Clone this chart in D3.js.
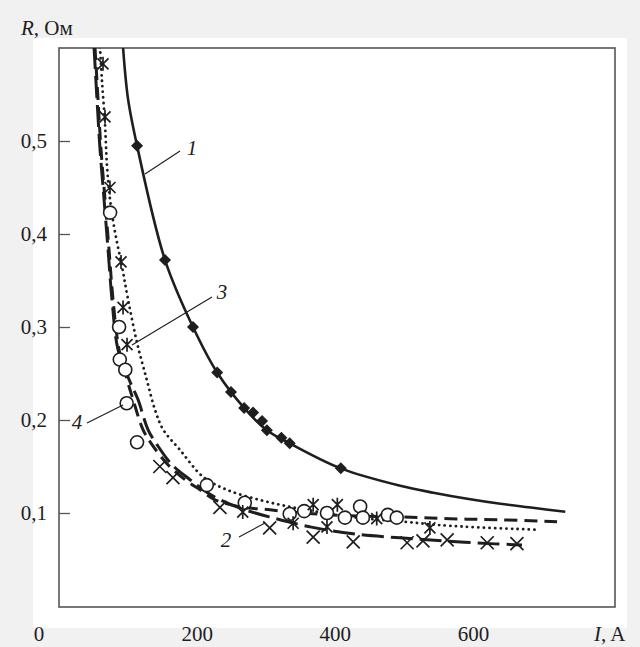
<!DOCTYPE html>
<html><head><meta charset="utf-8">
<script src="https://cdn.jsdelivr.net/npm/d3@7"></script>
<style>html,body{margin:0;padding:0;background:#f1f1f1;}svg{display:block;}</style>
</head><body>
<svg id="c" width="640" height="647"></svg>
<script>
// ---- data (I in A, R in Ohm) ----
const xTicks = [200, 400, 600];
const yTicks = [0.1, 0.2, 0.3, 0.4, 0.5];
const yTickLabels = ["0,1", "0,2", "0,3", "0,4", "0,5"];

// curve 1 (solid, filled diamonds)
const c1LineI = [92.7, 100, 113, 153.5, 194, 229, 268, 301, 334, 408, 494, 542, 591, 639, 686, 733];
const c1LineR = [0.601, 0.545, 0.495, 0.372, 0.300, 0.251, 0.213, 0.189, 0.175, 0.148, 0.1293, 0.1218, 0.1153, 0.1099, 0.1056, 0.1013];
const c1PtsI = [113, 153.5, 194, 229, 249, 268, 281, 294, 301, 322, 334, 408];
const c1PtsR = [0.495, 0.372, 0.300, 0.251, 0.230, 0.213, 0.208, 0.199, 0.189, 0.181, 0.175, 0.148];

// curve 2 (long dashes, crosses)
const c2LineI = [50.7, 55, 59.4, 65.2, 71, 76.7, 85.4, 101.4, 114.4, 128.8, 141.9, 163.6, 189.7, 208.5, 233.2, 269.3, 309.9, 363.5, 425.7, 493.7, 556, 631.3, 670.4];
const c2LineR = [0.601, 0.545, 0.491, 0.4375, 0.3836, 0.3297, 0.2759, 0.2435, 0.222, 0.1897, 0.1735, 0.1519, 0.1358, 0.125, 0.1142, 0.1034, 0.0948, 0.0851, 0.0776, 0.0733, 0.070, 0.0668, 0.0657];
const c2PtsI = [146, 165, 233, 305, 368, 426, 504, 527, 562, 620, 663];
const c2PtsR = [0.150, 0.138, 0.106, 0.084, 0.074, 0.069, 0.068, 0.070, 0.071, 0.068, 0.067];

// curve 3 (dotted, asterisks)
const c3LineI = [59.4, 62.3, 66.6, 69.5, 73.8, 81.1, 91.2, 99.9, 113, 127, 139, 150.6, 175, 208.5, 243, 291, 339, 421, 501, 566, 696];
const c3LineR = [0.601, 0.5636, 0.518, 0.473, 0.4375, 0.402, 0.365, 0.330, 0.283, 0.2435, 0.211, 0.190, 0.168, 0.139, 0.125, 0.114, 0.106, 0.096, 0.0905, 0.0862, 0.0819];
const c3PtsI = [63.7, 66.6, 73.8, 89.8, 92.7, 98.5, 266, 339, 368, 388, 403, 460, 537];
const c3PtsR = [0.583, 0.526, 0.450, 0.370, 0.321, 0.281, 0.101, 0.089, 0.109, 0.085, 0.109, 0.094, 0.084];

// curve 4 (dashes, open circles)
const c4LineI = [52.1, 56.5, 60.8, 66.6, 72.4, 78.2, 86.9, 98.5, 107.2, 121.6, 134.7, 157.8, 182.5, 204.2, 225.9, 262.1, 305.5, 348.9, 421.3, 493.7, 566.1, 638.6, 721.1];
const c4LineR = [0.601, 0.545, 0.491, 0.4375, 0.3836, 0.3297, 0.2759, 0.2435, 0.222, 0.1897, 0.1735, 0.1519, 0.1358, 0.125, 0.1142, 0.1067, 0.1034, 0.1002, 0.097, 0.0959, 0.0938, 0.0927, 0.0905];
const c4PtsI = [74, 87, 88, 96, 98, 113, 214, 269, 334, 355, 388, 414, 436, 440, 476, 489];
const c4PtsR = [0.423, 0.300, 0.265, 0.254, 0.218, 0.176, 0.130, 0.111, 0.099, 0.102, 0.100, 0.095, 0.107, 0.095, 0.098, 0.095];

const curveLabels = ["1", "2", "3", "4"];

// ---- layout ----
const svg = d3.select("#c");
const L = 59, R = 615, T = 48, B = 607;
const x = d3.scaleLinear().domain([0, 805]).range([L, R]);
const y = d3.scaleLinear().domain([0, 0.6]).range([606, T]);

svg.append("rect").attr("x", 33).attr("y", 38).attr("width", 594).attr("height", 590).attr("fill", "#fff");

const font = "'Liberation Serif','Times New Roman',serif";
const ink = "#1e1e1e";

svg.append("clipPath").attr("id", "clip").append("rect")
  .attr("x", L).attr("y", T).attr("width", R - L).attr("height", B - T);

svg.append("rect").attr("x", L).attr("y", T).attr("width", R - L).attr("height", B - T)
  .attr("fill", "none").attr("stroke", "#555").attr("stroke-width", 1.6);

// y ticks (inside)
const yAxis = d3.axisRight(y).tickValues(yTicks).tickSize(11).tickFormat("");
const ya = svg.append("g").attr("transform", `translate(${L},0)`).call(yAxis);
ya.select(".domain").remove();
ya.selectAll("line").attr("stroke", "#555").attr("stroke-width", 1.3);
svg.append("g").selectAll("text").data(yTicks).join("text")
  .attr("x", 47).attr("y", d => y(d) + 7).attr("text-anchor", "end")
  .attr("font-family", font).attr("font-size", 21).attr("fill", ink)
  .text((d, i) => yTickLabels[i]);

// x labels
svg.append("g").selectAll("text").data(xTicks).join("text")
  .attr("x", d => x(d)).attr("y", 641).attr("text-anchor", "middle")
  .attr("font-family", font).attr("font-size", 21).attr("fill", ink).text(d => d);
svg.append("text").attr("x", 39).attr("y", 641).attr("text-anchor", "middle")
  .attr("font-family", font).attr("font-size", 21).attr("fill", ink).text("0");
const xl = svg.append("text").attr("x", 594).attr("y", 641)
  .attr("font-family", font).attr("font-size", 21).attr("fill", ink);
xl.append("tspan").attr("font-style", "italic").text("I");
xl.append("tspan").text(", A");
const yl = svg.append("text").attr("x", 21).attr("y", 35)
  .attr("font-family", font).attr("font-size", 21).attr("fill", ink);
yl.append("tspan").attr("font-style", "italic").text("R");
yl.append("tspan").text(", Ом");

const g = svg.append("g").attr("clip-path", "url(#clip)");
const zip = (a, b) => a.map((v, i) => [v, b[i]]);

function drawLine(I, Rv, w, dash, cap) {
  g.append("path").datum(zip(I, Rv))
    .attr("d", d3.line().x(d => x(d[0])).y(d => y(d[1])).curve(d3.curveCatmullRom.alpha(0.5)))
    .attr("fill", "none").attr("stroke", ink).attr("stroke-width", w)
    .attr("stroke-dasharray", dash).attr("stroke-linecap", cap || "butt");
}
drawLine(c2LineI, c2LineR, 3, "22 7");
drawLine(c4LineI, c4LineR, 3, "13 7");
drawLine(c3LineI, c3LineR, 2.8, "0.1 5.5", "round");
drawLine(c1LineI, c1LineR, 2.6, null);

// markers
const diamond = d3.symbol().type(d3.symbolSquare).size(72);
g.append("g").selectAll("path").data(zip(c1PtsI, c1PtsR)).join("path")
  .attr("d", diamond).attr("transform", d => `translate(${x(d[0])},${y(d[1])}) rotate(45)`)
  .attr("fill", ink);
g.append("g").selectAll("circle").data(zip(c4PtsI, c4PtsR)).join("circle")
  .attr("cx", d => x(d[0])).attr("cy", d => y(d[1])).attr("r", 6.5)
  .attr("fill", "#fff").attr("stroke", ink).attr("stroke-width", 1.6);
const cross = s => `M${-s},${-s}L${s},${s}M${s},${-s}L${-s},${s}`;
g.append("g").selectAll("path").data(zip(c2PtsI, c2PtsR)).join("path")
  .attr("d", cross(6.5)).attr("transform", d => `translate(${x(d[0])},${y(d[1])})`)
  .attr("stroke", ink).attr("stroke-width", 1.7).attr("fill", "none");
g.append("g").selectAll("path").data(zip(c3PtsI, c3PtsR)).join("path")
  .attr("d", cross(5.5) + "M0,-7L0,7").attr("transform", d => `translate(${x(d[0])},${y(d[1])})`)
  .attr("stroke", ink).attr("stroke-width", 1.7).attr("fill", "none");

// curve labels with leaders
const labelPos = [[192, 155, 145, 174, 180, 151], [226, 547, 239, 537, 265, 523], [222, 299, 132, 345, 212, 297], [77, 429, 87, 423, 123, 405]];
labelPos.forEach((p, i) => {
  svg.append("line").attr("x1", p[2]).attr("y1", p[3]).attr("x2", p[4]).attr("y2", p[5])
    .attr("stroke", ink).attr("stroke-width", 1.1);
  svg.append("text").attr("x", p[0]).attr("y", p[1]).attr("text-anchor", "middle")
    .attr("font-family", font).attr("font-style", "italic").attr("font-size", 21).attr("fill", ink)
    .text(curveLabels[i]);
});
</script>
</body></html>
